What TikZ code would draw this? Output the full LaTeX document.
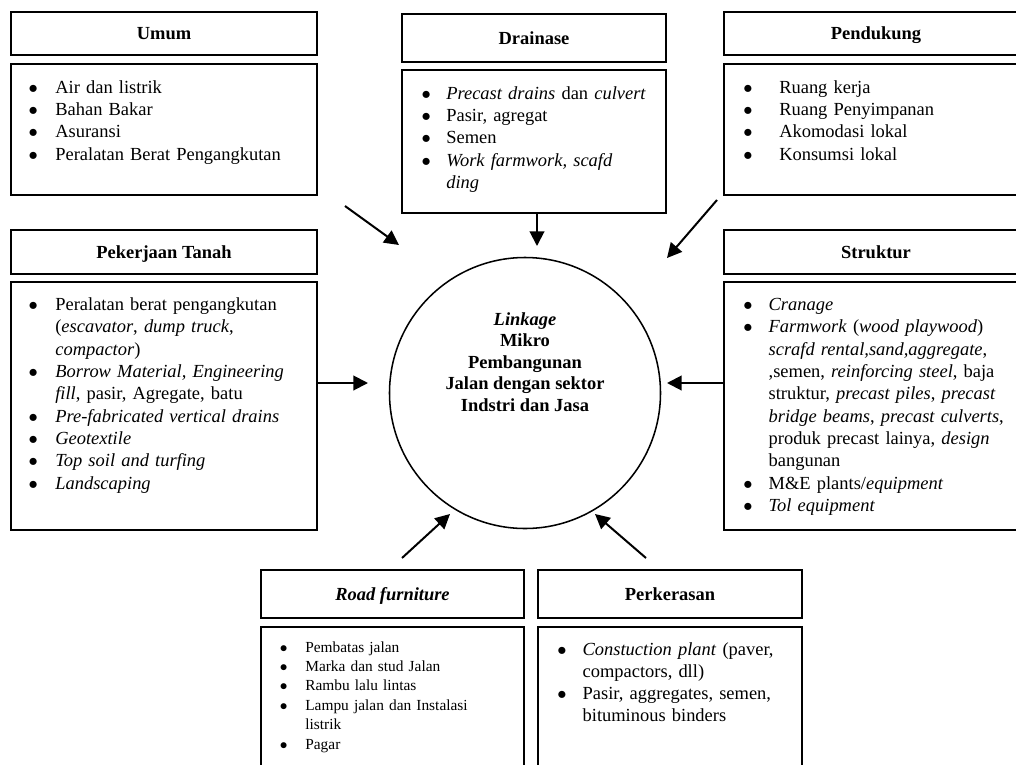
\documentclass[tikz,border=0pt]{standalone}
\usepackage{fontspec}
\setmainfont{Liberation Serif}
\usetikzlibrary{arrows.meta}
\newcommand{\pxu}{0.65pt}
\newlength{\hng}
\newcommand{\nl}{\hfil\break}
\newcommand{\bitem}[1]{\par\noindent\hangindent=\hng\hangafter=1\makebox[\hng][l]{$\bullet$}\strut#1\strut\par}
\tikzset{
  frame/.style={draw, line width=1.3pt, anchor=north west, inner sep=0pt},
  tbox/.style={frame, text height=10pt, text depth=2pt, font=\fontsize{12}{14.5}\selectfont\bfseries},
  bbox/.style={frame},
  txt/.style={anchor=north west, inner sep=0pt, text width=320pt, align=left, font=\fontsize{12}{14.5}\selectfont},
  smalltxt/.style={txt, font=\fontsize{10}{12.6}\selectfont},
  arr/.style={line width=1.3pt, -{Triangle[length=9.5pt,width=9.5pt]}}
}
\begin{document}
\begin{tikzpicture}[x=0.65pt,y=-0.65pt]
\useasboundingbox (0,0) rectangle (1016,765);
\clip (0,0) rectangle (1016,765);

% Umum
\node[tbox, minimum width=306*\pxu, minimum height=43*\pxu] (umumT) at (10,11) {Umum};
\node[bbox, minimum width=306*\pxu, minimum height=131*\pxu] (umumB) at (10,63) {};
\node[txt] (umumL) at (28.4,70.5) {\setlength{\hng}{17.3pt}%
\bitem{Air dan listrik}
\bitem{Bahan Bakar}
\bitem{Asuransi}
\bitem{Peralatan Berat Pengangkutan}};

% Drainase
\node[tbox, minimum width=264*\pxu, minimum height=48*\pxu] (drainT) at (401,13) {Drainase};
\node[bbox, minimum width=264*\pxu, minimum height=143*\pxu] (drainB) at (401,69) {};
\node[txt] (drainL) at (421.4,76.5) {\setlength{\hng}{16pt}%
\bitem{\textit{Precast drains} dan \textit{culvert}}
\bitem{Pasir, agregat}
\bitem{Semen}
\bitem{\textit{Work farmwork, scafd}\nl\textit{ding}}};

% Pendukung
\node[tbox, minimum width=304*\pxu, minimum height=43*\pxu] (dukT) at (723,11) {Pendukung};
\node[bbox, minimum width=304*\pxu, minimum height=131*\pxu] (dukB) at (723,63) {};
\node[txt] (dukL) at (743.1,70.5) {\setlength{\hng}{23.3pt}%
\bitem{Ruang kerja}
\bitem{Ruang Penyimpanan}
\bitem{Akomodasi lokal}
\bitem{Konsumsi lokal}};

% Pekerjaan Tanah
\node[tbox, minimum width=306*\pxu, minimum height=44*\pxu] (tanahT) at (10,229) {Pekerjaan Tanah};
\node[bbox, minimum width=306*\pxu, minimum height=248*\pxu] (tanahB) at (10,281) {};
\node[txt] (tanahL) at (28.4,288) {\setlength{\hng}{17.3pt}%
\bitem{Peralatan berat pengangkutan\nl(\textit{escavator}, \textit{dump truck},\nl\textit{compactor})}
\bitem{\textit{Borrow Material, Engineering}\nl\textit{fill}, pasir, Agregate, batu}
\bitem{\textit{Pre-fabricated vertical drains}}
\bitem{\textit{Geotextile}}
\bitem{\textit{Top soil and turfing}}
\bitem{\textit{Landscaping}}};

% Struktur
\node[tbox, minimum width=304*\pxu, minimum height=44*\pxu] (strukT) at (723,229) {Struktur};
\node[bbox, minimum width=304*\pxu, minimum height=248*\pxu] (strukB) at (723,281) {};
\node[txt] (strukL) at (743.1,288) {\setlength{\hng}{16.4pt}%
\bitem{\textit{Cranage}}
\bitem{\textit{Farmwork} (\textit{wood playwood})\nl\textit{scrafd rental,sand,aggregate},\nl,semen, \textit{reinforcing steel}, baja\nl struktur, \textit{precast piles}, \textit{precast}\nl\textit{bridge beams}, \textit{precast culverts},\nl produk precast lainya, \textit{design}\nl bangunan}
\bitem{M\&E plants/\textit{equipment}}
\bitem{\textit{Tol equipment}}};

% Road furniture
\node[tbox, font=\fontsize{12}{14.5}\selectfont\bfseries\itshape, minimum width=263*\pxu, minimum height=48*\pxu] (roadT) at (260,569) {Road furniture};
\node[bbox, minimum width=263*\pxu, minimum height=164*\pxu] (roadB) at (260,626) {};
\node[smalltxt] (roadL) at (279.5,632.4) {\setlength{\hng}{16.6pt}%
\bitem{Pembatas jalan}
\bitem{Marka dan stud Jalan}
\bitem{Rambu lalu lintas}
\bitem{Lampu jalan dan Instalasi\nl listrik}
\bitem{Pagar}};

% Perkerasan
\node[tbox, minimum width=264*\pxu, minimum height=48*\pxu] (kerasT) at (537,569) {Perkerasan};
\node[bbox, minimum width=264*\pxu, minimum height=164*\pxu] (kerasB) at (537,626) {};
\node[txt] (kerasL) at (557.1,632.4) {\setlength{\hng}{16.4pt}%
\bitem{\textit{Constuction plant} (paver,\nl compactors, dll)}
\bitem{Pasir, aggregates, semen,\nl bituminous binders}};

% Hub
\node[circle, draw, line width=1pt, minimum size=271*\pxu, inner sep=0pt] (hub) at (525,393) {};
\node[align=center, inner sep=0pt, font=\fontsize{12}{14}\selectfont\bfseries] (hubtext) at (525,362)
 {\textit{Linkage}\\Mikro\\Pembangunan\\Jalan dengan sektor\\Indstri dan Jasa};

% arrow endpoints
\coordinate (aUs) at (345,206);  \coordinate (aUe) at (399,245);
\coordinate (aDs) at (537,212);  \coordinate (aDe) at (537,246);
\coordinate (aPs) at (717,200);  \coordinate (aPe) at (667,258);
\coordinate (aTs) at (316,383);  \coordinate (aTe) at (368,383);
\coordinate (aSs) at (723,383);  \coordinate (aSe) at (667,383);
\coordinate (aRs) at (402,558);  \coordinate (aRe) at (450,514);
\coordinate (aKs) at (646,558);  \coordinate (aKe) at (595,514);

\draw[arr] (aUs) -- (aUe);
\draw[arr] (aDs) -- (aDe);
\draw[arr] (aPs) -- (aPe);
\draw[arr] (aTs) -- (aTe);
\draw[arr] (aSs) -- (aSe);
\draw[arr] (aRs) -- (aRe);
\draw[arr] (aKs) -- (aKe);
\end{tikzpicture}
\end{document}
